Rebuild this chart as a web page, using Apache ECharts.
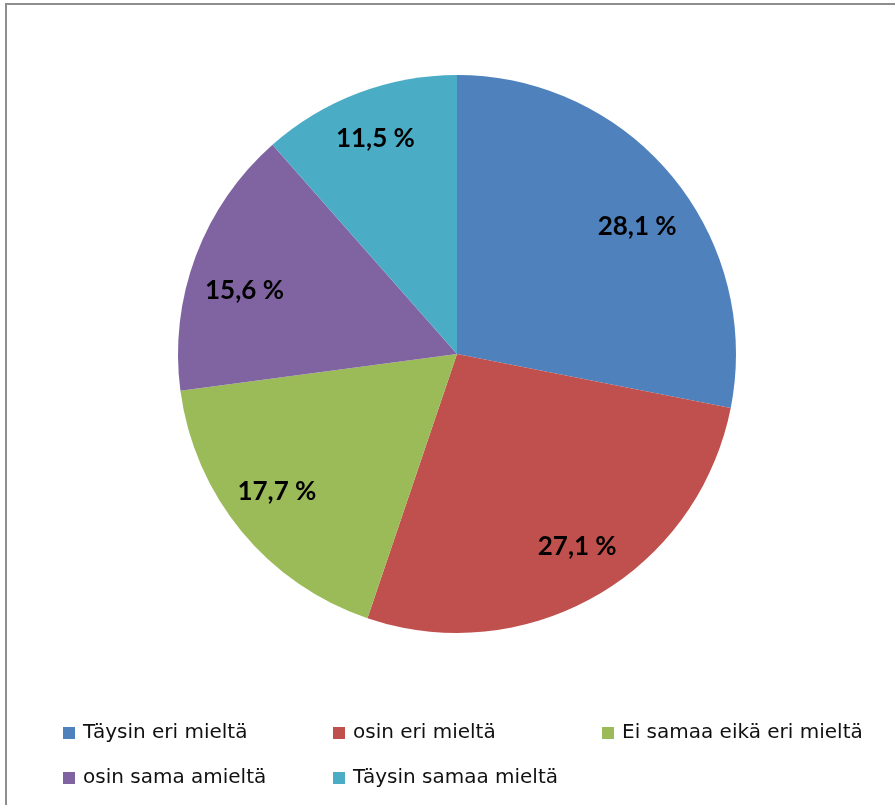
<!DOCTYPE html>
<html><head><meta charset="utf-8">
<script src="https://cdn.jsdelivr.net/npm/echarts@6/dist/echarts.min.js"></script>
<style>html,body{margin:0;padding:0;background:#fff}#c{width:895px;height:805px}</style>
</head><body><div id="c"></div>
<script>
const categories = ['Täysin eri mieltä', 'osin eri mieltä', 'Ei samaa eikä eri mieltä', 'osin sama amieltä', 'Täysin samaa mieltä'];
const values = [28.1, 27.1, 17.7, 15.6, 11.5];
const colors = ['#4F81BD', '#C0504D', '#9BBB59', '#8064A2', '#4BACC6'];

// style-only settings (legend placement and label nudges)
const legendPos = [[63, 723], [333, 723], [602, 723], [63, 768], [333, 768]];
const labelNudge = [[4, 17], [6, -5], [-4, -7], [1, 17], [-1, -2]];
const FONT = 'DejaVu Sans';

const data = categories.map((n, i) => ({ name: n, value: values[i] }));
const labelData = categories.map((n, i) => ({ name: n, value: values[i], label: { offset: labelNudge[i] } }));
const fmt = p => p.value.toFixed(1).replace('.', ',') + ' %';

const chart = echarts.init(document.getElementById('c'), null, { renderer: 'canvas' });
chart.setOption({
  animation: false,
  color: colors,
  graphic: [{
    type: 'rect', shape: { x: 6, y: 4, width: 1000, height: 1000 },
    style: { fill: 'none', stroke: '#8e8e8e', lineWidth: 2 }, z: 100, silent: true
  }],
  legend: categories.map((n, i) => ({
    data: [n], left: legendPos[i][0], top: legendPos[i][1],
    icon: 'rect', itemWidth: 12, itemHeight: 12, itemGap: 0, padding: 0,
    selectedMode: false,
    textStyle: { fontFamily: FONT, fontSize: 20, color: '#111', lineHeight: 12, padding: [-3, 0, 0, 3] }
  })),
  series: [
    {
      type: 'pie', center: [457, 354], radius: [0, 279], startAngle: 90, clockwise: true,
      data: data, label: { show: false }, labelLine: { show: false },
      itemStyle: { borderWidth: 0 }, emphasis: { disabled: true }, silent: true
    },
    {
      type: 'pie', center: [457, 354], radius: [171, 279], startAngle: 90, clockwise: true,
      data: labelData, itemStyle: { color: 'rgba(0,0,0,0)', borderWidth: 0 },
      legendHoverLink: false, emphasis: { disabled: true }, silent: true,
      label: { show: true, position: 'inside', formatter: fmt, fontFamily: 'Lato', fontWeight: 'bold', fontSize: 26, color: '#000' },
      labelLine: { show: false }
    }
  ]
});
</script></body></html>
